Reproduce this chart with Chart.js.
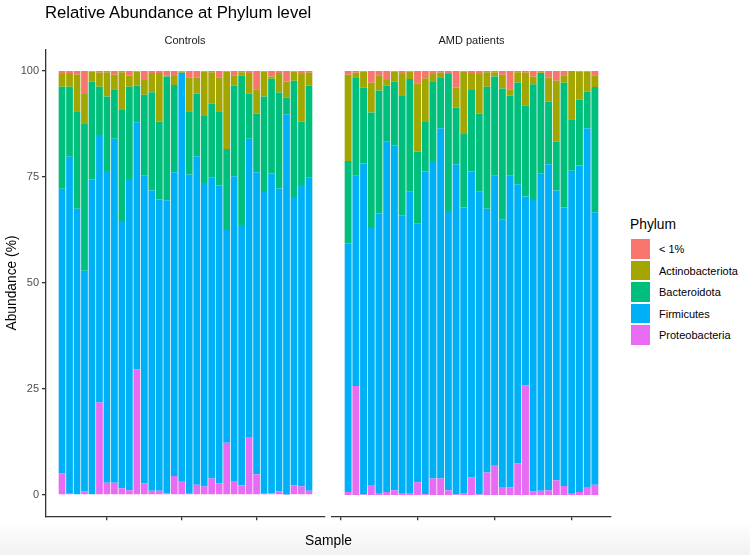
<!DOCTYPE html>
<html>
<head>
<meta charset="utf-8">
<script src="https://cdn.jsdelivr.net/npm/chart.js@4.4.1/dist/chart.umd.min.js"></script>
<style>
html,body{margin:0;padding:0;background:#fff;}
#wrap{position:relative;width:750px;height:555px;overflow:hidden;font-family:"Liberation Sans",Arial,Helvetica,sans-serif;
  background:linear-gradient(to bottom,#ffffff 0px,#ffffff 522px,#f1f1f1 555px);}
.t{position:absolute;white-space:nowrap;line-height:1;}
canvas{position:absolute;}
.lg{position:absolute;}
</style>
</head>
<body>
<div id="wrap">
  <canvas id="cL" width="330" height="555" style="left:0;top:0;width:330px;height:555px"></canvas>
  <canvas id="cR" width="290" height="555" style="left:330px;top:0;width:290px;height:555px"></canvas>
  <div class="t" id="title" style="left:45px;top:5px;font-size:16.7px;color:#000">Relative Abundance at Phylum level</div>
  <div class="t" id="stripL" style="left:185px;top:39.5px;font-size:11px;color:#1a1a1a;transform:translate(-50%,-50%)">Controls</div>
  <div class="t" id="stripR" style="left:471.5px;top:39.5px;font-size:11px;color:#1a1a1a;transform:translate(-50%,-50%)">AMD patients</div>
  <div class="t" id="xtitle" style="left:328.5px;top:541px;font-size:13.8px;color:#000;transform:translate(-50%,-50%)">Sample</div>
  <div id="legend"></div>
</div>
<script>
// ---- data ----
const phyla  = ['< 1%', 'Actinobacteriota', 'Bacteroidota', 'Firmicutes', 'Proteobacteria'];
const colors = ['#F8766D', '#A3A500', '#00BF7D', '#00B0F6', '#E76BF3'];
const panelTitles = ['Controls', 'AMD patients'];

const ctrlSamples = [4,5,6,7,8,9,10,11,12,13,14,15,16,17,18,19,20,21,22,23,24,25,26,27,28,29,30,31,32,33,34,35,36,37];
const amdSamples  = [41,42,43,44,45,46,47,48,49,50,51,52,53,54,55,56,57,58,59,60,61,62,63,64,65,66,67,68,69,70,71,72,73];

const ctrlProteo = [5.1,0.5,0.2,0.8,0.2,21.8,2.9,2.9,1.6,1.1,29.6,2.8,1.0,1.0,0.4,4.5,3.3,0.5,2.4,2.0,3.9,2.8,12.3,3.1,2.3,13.5,4.9,0.5,0.4,0.8,0.1,2.3,2.0,1.0];
const ctrlFirm   = [67.1,79.3,67.3,52.1,74.2,63.1,73.5,81.1,63.0,73.4,58.3,72.6,70.8,68.7,69.1,71.6,96.0,75.1,77.5,71.6,70.9,70.2,50.2,72.1,61.4,70.5,71.2,71.2,75.4,71.5,89.7,68.0,71.1,73.8];
const ctrlBact   = [24.1,16.5,23.0,34.8,23.1,11.4,17.6,11.7,26.4,21.8,8.7,19.0,23.2,18.4,29.2,20.6,0.3,14.9,14.8,15.8,17.5,17.5,19.1,21.3,35.2,10.7,13.9,22.3,22.4,22.6,3.9,27.4,15.0,21.8];
const ctrlActino = [3.0,3.2,8.6,6.9,2.3,3.3,5.7,3.4,8.7,2.6,3.2,3.5,4.5,11.4,0.3,2.1,0.2,8.0,3.7,10.4,7.4,8.0,18.2,2.5,0.8,4.8,5.7,5.8,0.5,4.6,3.8,2.1,11.2,3.0];
const ctrlOther  = [0.7,0.5,0.9,5.4,0.2,0.4,0.3,0.9,0.3,1.1,0.2,2.1,0.5,0.5,1.0,1.2,0.2,1.5,1.6,0.2,0.3,1.5,0.2,1.0,0.3,0.5,4.3,0.2,1.3,0.5,2.5,0.2,0.7,0.4];

const amdProteo = [0.7,25.7,0.1,2.2,0.3,0.7,1.1,0.5,0.5,3.0,0.2,3.9,3.9,1.1,0.1,0.3,4.1,0.1,5.3,7.1,1.7,1.8,7.4,25.8,0.8,1.0,1.1,3.5,2.1,0.5,0.7,1.7,2.4];
const amdFirm   = [58.7,49.6,78.1,60.8,66.1,82.6,81.4,65.5,71.0,61.1,76.1,74.9,82.6,65.9,77.9,67.5,72.2,71.4,62.2,68.2,63.2,73.5,65.9,44.6,68.8,74.9,76.9,68.3,65.7,76.0,77.0,84.8,64.3];
const amdBact   = [19.4,23.2,17.9,27.2,29.0,13.2,15.0,28.3,26.6,16.9,11.7,18.8,12.0,32.3,13.4,17.5,19.2,18.5,28.8,23.4,31.0,18.9,24.0,21.4,27.3,23.6,14.8,11.5,29.4,12.1,15.6,8.6,29.5];
const amdActino = [20.3,1.1,3.7,7.0,3.6,1.4,2.3,5.0,1.7,16.1,10.3,1.7,1.1,0.2,4.7,14.5,4.0,9.3,3.4,1.0,3.2,1.5,2.4,7.8,1.8,0.2,5.7,14.4,1.8,11.4,6.5,4.7,2.8];
const amdOther  = [0.9,0.4,0.2,2.8,1.0,2.1,0.2,0.7,0.2,2.9,1.7,0.7,0.4,0.5,3.9,0.2,0.5,0.7,0.3,0.3,0.9,4.3,0.3,0.4,1.3,0.3,1.5,2.3,1.0,0.0,0.2,0.2,1.0];

const yTicks      = [0, 25, 50, 75, 100];
const ctrlXTicks  = [10, 20, 30];
const amdXTicks   = [40, 50, 60, 70];

// ---- chart building ----
const AXIS = '#333333';
const FONT = '"Liberation Sans", Arial, Helvetica, sans-serif';

function xRange(ids) {
  const lo = ids[0] - 0.45, hi = ids[ids.length - 1] + 0.45, pad = (hi - lo) * 0.05;
  return [lo - pad, hi + pad];
}

function makePanel(canvasId, ids, byPhylum, xTicks, showY, padL, padR) {
  // byPhylum in legend order; stack from bottom: Proteobacteria ... < 1%
  const datasets = [];
  for (let k = phyla.length - 1; k >= 0; k--) {
    datasets.push({
      label: phyla[k],
      data: ids.map((x, i) => ({ x: x, y: byPhylum[k][i] })),
      backgroundColor: colors[k],
      borderWidth: 0,
      barPercentage: 0.9,
      categoryPercentage: 1.0
    });
  }
  const [xmin, xmax] = xRange(ids);
  return new Chart(document.getElementById(canvasId), {
    type: 'bar',
    data: { datasets },
    options: {
      responsive: false,
      animation: false,
      devicePixelRatio: 1,
      layout: { padding: { top: 49.8, bottom: 32.8, left: padL, right: padR } },
      plugins: { legend: { display: false }, tooltip: { enabled: false }, title: { display: false } },
      scales: {
        x: {
          type: 'linear', stacked: true, min: xmin, max: xmax, offset: false,
          afterBuildTicks: s => { s.ticks = xTicks.map(v => ({ value: v })); },
          afterFit: s => { s.height = 6; },
          ticks: { display: false },
          grid: { drawOnChartArea: false, drawTicks: true, tickLength: 4, color: AXIS, lineWidth: 1.3, offset: false },
          border: { display: true, color: AXIS, width: 1.3 }
        },
        y: {
          display: showY, stacked: true, min: -5, max: 105,
          afterBuildTicks: s => { s.ticks = yTicks.map(v => ({ value: v })); },
          afterFit: s => { if (showY) s.width = 46; },
          ticks: { color: '#4d4d4d', font: { family: FONT, size: 11 }, padding: 3 },
          grid: { drawOnChartArea: false, drawTicks: true, tickLength: 4, color: AXIS, lineWidth: 1.3 },
          border: { display: true, color: AXIS, width: 1.3 },
          title: { display: true, text: 'Abundance (%)', color: '#000', font: { family: FONT, size: 13.8 }, padding: { top: 4, bottom: 0 } }
        }
      }
    }
  });
}

makePanel('cL', ctrlSamples, [ctrlOther, ctrlActino, ctrlBact, ctrlFirm, ctrlProteo], ctrlXTicks, true, 0, 5);
makePanel('cR', amdSamples,  [amdOther, amdActino, amdBact, amdFirm, amdProteo], amdXTicks, false, 2, 9);

document.getElementById('stripL').textContent = panelTitles[0];
document.getElementById('stripR').textContent = panelTitles[1];

// ---- legend (built from the phyla / colour arrays) ----
const lg = document.getElementById('legend');
const head = document.createElement('div');
head.className = 't';
head.style.cssText = 'left:630px;top:225px;font-size:13.8px;color:#000;transform:translateY(-50%)';
head.textContent = 'Phylum';
lg.appendChild(head);
phyla.forEach((p, i) => {
  const top = 239.3 + i * 21.5;
  const box = document.createElement('div');
  box.className = 'lg';
  box.style.cssText = `left:630.7px;top:${top}px;width:19.3px;height:19.5px;background:${colors[i]}`;
  lg.appendChild(box);
  const lab = document.createElement('div');
  lab.className = 't';
  lab.style.cssText = `left:659px;top:${top + 9.75}px;font-size:11px;color:#000;transform:translateY(-50%)`;
  lab.textContent = p;
  lg.appendChild(lab);
});
</script>
</body>
</html>
